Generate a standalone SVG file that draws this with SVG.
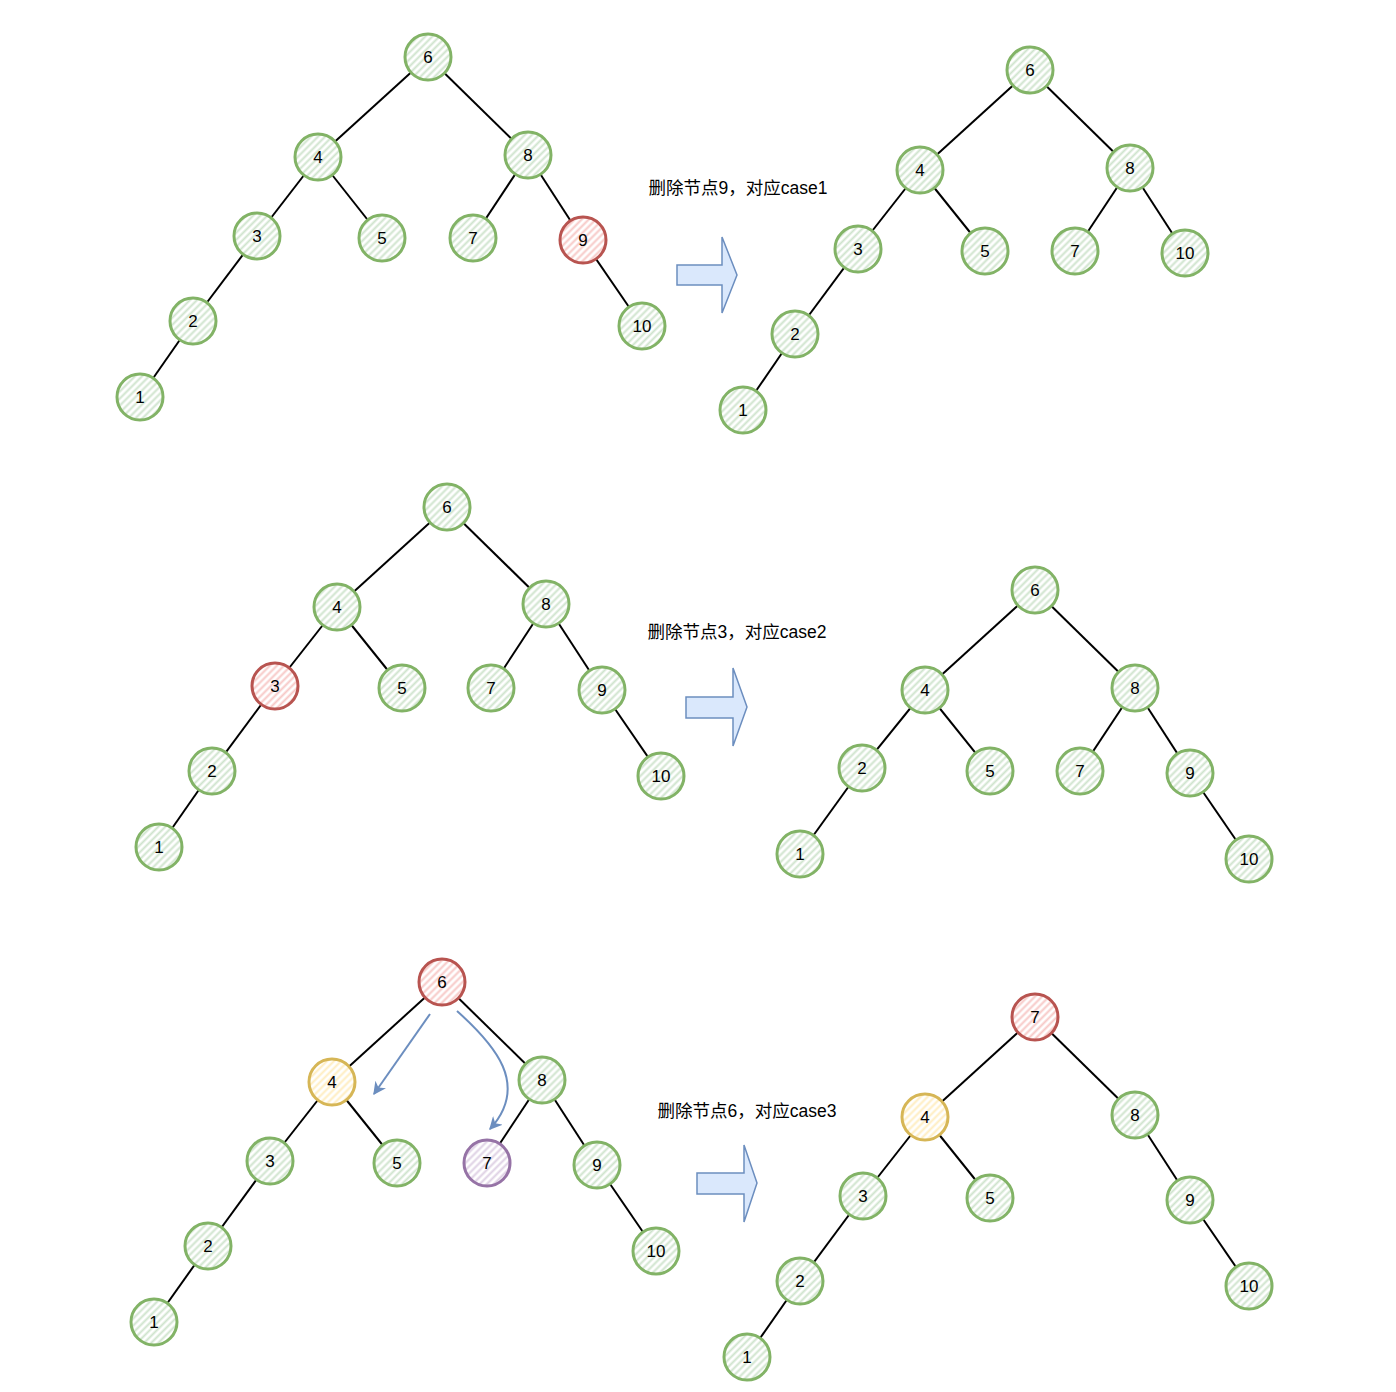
<svg xmlns="http://www.w3.org/2000/svg" width="1396" height="1392" viewBox="0 0 1396 1392">
<defs>
<pattern id="hg" patternUnits="userSpaceOnUse" width="5" height="5" patternTransform="rotate(45)"><rect width="5" height="5" fill="#ffffff"/><line x1="1.5" y1="0" x2="1.5" y2="5" stroke="#cfe4cd" stroke-width="2"/></pattern>
<pattern id="hr" patternUnits="userSpaceOnUse" width="5" height="5" patternTransform="rotate(45)"><rect width="5" height="5" fill="#ffffff"/><line x1="1.5" y1="0" x2="1.5" y2="5" stroke="#f7c8c6" stroke-width="2"/></pattern>
<pattern id="hy" patternUnits="userSpaceOnUse" width="5" height="5" patternTransform="rotate(45)"><rect width="5" height="5" fill="#ffffff"/><line x1="1.5" y1="0" x2="1.5" y2="5" stroke="#ffedc0" stroke-width="2"/></pattern>
<pattern id="hp" patternUnits="userSpaceOnUse" width="5" height="5" patternTransform="rotate(45)"><rect width="5" height="5" fill="#ffffff"/><line x1="1.5" y1="0" x2="1.5" y2="5" stroke="#ded0e4" stroke-width="2"/></pattern>
<marker id="ah" viewBox="0 0 10 10" refX="9" refY="5" markerWidth="13" markerHeight="13" orient="auto" markerUnits="userSpaceOnUse"><path d="M0,0 L10,5 L0,10 L3,5 Z" fill="#6c8ebf"/></marker>
</defs>
<style>
.n circle{stroke-width:3}
.g circle{fill:url(#hg);stroke:#82b366}
.r circle{fill:url(#hr);stroke:#b85450}
.y circle{fill:url(#hy);stroke:#d6b656}
.p circle{fill:url(#hp);stroke:#9673a6}
.n text{font-family:"Liberation Sans","Noto Sans CJK SC",sans-serif;font-size:17px;fill:#000;text-anchor:middle;dominant-baseline:central}
.e line{stroke:#000;stroke-width:2}
.lbl{font-family:"Liberation Sans","Noto Sans CJK SC",sans-serif;font-size:17.5px;fill:#000;text-anchor:middle}
.big{fill:#dae8fc;stroke:#6c8ebf;stroke-width:1.5}
.ba{fill:none;stroke:#6c8ebf;stroke-width:2}
</style>
<rect width="1396" height="1392" fill="#ffffff"/>

<g id="connectors">
<g class="e">
<line x1="428" y1="57" x2="318" y2="157"/><line x1="428" y1="57" x2="528" y2="155"/>
<line x1="318" y1="157" x2="257" y2="236"/><line x1="318" y1="157" x2="382" y2="238"/>
<line x1="528" y1="155" x2="473" y2="238"/><line x1="528" y1="155" x2="583" y2="240"/>
<line x1="257" y1="236" x2="193" y2="321"/><line x1="193" y1="321" x2="140" y2="397"/>
<line x1="583" y1="240" x2="642" y2="326"/>
<line x1="1030" y1="70" x2="920" y2="170"/><line x1="1030" y1="70" x2="1130" y2="168"/>
<line x1="920" y1="170" x2="858" y2="249"/><line x1="920" y1="170" x2="985" y2="251"/>
<line x1="1130" y1="168" x2="1075" y2="251"/><line x1="1130" y1="168" x2="1185" y2="253"/>
<line x1="858" y1="249" x2="795" y2="334"/><line x1="795" y1="334" x2="743" y2="410"/>
<line x1="447" y1="507" x2="337" y2="607"/><line x1="447" y1="507" x2="546" y2="604"/>
<line x1="337" y1="607" x2="275" y2="686"/><line x1="337" y1="607" x2="402" y2="688"/>
<line x1="546" y1="604" x2="491" y2="688"/><line x1="546" y1="604" x2="602" y2="690"/>
<line x1="275" y1="686" x2="212" y2="771"/><line x1="212" y1="771" x2="159" y2="847"/>
<line x1="602" y1="690" x2="661" y2="776"/>
<line x1="1035" y1="590" x2="925" y2="690"/><line x1="1035" y1="590" x2="1135" y2="688"/>
<line x1="925" y1="690" x2="862" y2="768"/><line x1="925" y1="690" x2="990" y2="771"/>
<line x1="1135" y1="688" x2="1080" y2="771"/><line x1="1135" y1="688" x2="1190" y2="773"/>
<line x1="862" y1="768" x2="800" y2="854"/><line x1="1190" y1="773" x2="1249" y2="859"/>
<line x1="442" y1="982" x2="332" y2="1082"/><line x1="442" y1="982" x2="542" y2="1080"/>
<line x1="332" y1="1082" x2="270" y2="1161"/><line x1="332" y1="1082" x2="397" y2="1163"/>
<line x1="542" y1="1080" x2="487" y2="1163"/><line x1="542" y1="1080" x2="597" y2="1165"/>
<line x1="270" y1="1161" x2="208" y2="1246"/><line x1="208" y1="1246" x2="154" y2="1322"/>
<line x1="597" y1="1165" x2="656" y2="1251"/>
<line x1="1035" y1="1017" x2="925" y2="1117"/><line x1="1035" y1="1017" x2="1135" y2="1115"/>
<line x1="925" y1="1117" x2="863" y2="1196"/><line x1="925" y1="1117" x2="990" y2="1198"/>
<line x1="1135" y1="1115" x2="1190" y2="1200"/>
<line x1="863" y1="1196" x2="800" y2="1281"/><line x1="800" y1="1281" x2="747" y2="1357"/>
<line x1="1190" y1="1200" x2="1249" y2="1286"/>
</g>
<path class="ba" d="M430,1014 L374,1094" marker-end="url(#ah)"/>
<path class="ba" d="M457,1011 C495,1045 530,1085 490,1129" marker-end="url(#ah)"/>
</g>

<g id="big-arrows">
<path class="big" d="M677,265 L722,265 L722,237 L737,275 L722,313 L722,285 L677,285 Z"/>
<path class="big" d="M686,697 L733,697 L733,668 L747,707 L733,746 L733,718 L686,718 Z"/>
<path class="big" d="M697,1173 L744,1173 L744,1145 L757,1183 L744,1222 L744,1194 L697,1194 Z"/>
</g>

<g id="labels">
<text class="lbl" x="738" y="194">删除节点9，对应case1</text>
<text class="lbl" x="737" y="638">删除节点3，对应case2</text>
<text class="lbl" x="747" y="1117">删除节点6，对应case3</text>
</g>

<g id="t1-6" class="n g"><circle cx="428" cy="57" r="23"/><text x="428" y="57">6</text></g>
<g id="t1-4" class="n g"><circle cx="318" cy="157" r="23"/><text x="318" y="157">4</text></g>
<g id="t1-8" class="n g"><circle cx="528" cy="155" r="23"/><text x="528" y="155">8</text></g>
<g id="t1-3" class="n g"><circle cx="257" cy="236" r="23"/><text x="257" y="236">3</text></g>
<g id="t1-5" class="n g"><circle cx="382" cy="238" r="23"/><text x="382" y="238">5</text></g>
<g id="t1-7" class="n g"><circle cx="473" cy="238" r="23"/><text x="473" y="238">7</text></g>
<g id="t1-9" class="n r"><circle cx="583" cy="240" r="23"/><text x="583" y="240">9</text></g>
<g id="t1-2" class="n g"><circle cx="193" cy="321" r="23"/><text x="193" y="321">2</text></g>
<g id="t1-10" class="n g"><circle cx="642" cy="326" r="23"/><text x="642" y="326">10</text></g>
<g id="t1-1" class="n g"><circle cx="140" cy="397" r="23"/><text x="140" y="397">1</text></g>

<g id="t2-6" class="n g"><circle cx="1030" cy="70" r="23"/><text x="1030" y="70">6</text></g>
<g id="t2-4" class="n g"><circle cx="920" cy="170" r="23"/><text x="920" y="170">4</text></g>
<g id="t2-8" class="n g"><circle cx="1130" cy="168" r="23"/><text x="1130" y="168">8</text></g>
<g id="t2-3" class="n g"><circle cx="858" cy="249" r="23"/><text x="858" y="249">3</text></g>
<g id="t2-5" class="n g"><circle cx="985" cy="251" r="23"/><text x="985" y="251">5</text></g>
<g id="t2-7" class="n g"><circle cx="1075" cy="251" r="23"/><text x="1075" y="251">7</text></g>
<g id="t2-10" class="n g"><circle cx="1185" cy="253" r="23"/><text x="1185" y="253">10</text></g>
<g id="t2-2" class="n g"><circle cx="795" cy="334" r="23"/><text x="795" y="334">2</text></g>
<g id="t2-1" class="n g"><circle cx="743" cy="410" r="23"/><text x="743" y="410">1</text></g>

<g id="t3-6" class="n g"><circle cx="447" cy="507" r="23"/><text x="447" y="507">6</text></g>
<g id="t3-4" class="n g"><circle cx="337" cy="607" r="23"/><text x="337" y="607">4</text></g>
<g id="t3-8" class="n g"><circle cx="546" cy="604" r="23"/><text x="546" y="604">8</text></g>
<g id="t3-3" class="n r"><circle cx="275" cy="686" r="23"/><text x="275" y="686">3</text></g>
<g id="t3-5" class="n g"><circle cx="402" cy="688" r="23"/><text x="402" y="688">5</text></g>
<g id="t3-7" class="n g"><circle cx="491" cy="688" r="23"/><text x="491" y="688">7</text></g>
<g id="t3-9" class="n g"><circle cx="602" cy="690" r="23"/><text x="602" y="690">9</text></g>
<g id="t3-2" class="n g"><circle cx="212" cy="771" r="23"/><text x="212" y="771">2</text></g>
<g id="t3-10" class="n g"><circle cx="661" cy="776" r="23"/><text x="661" y="776">10</text></g>
<g id="t3-1" class="n g"><circle cx="159" cy="847" r="23"/><text x="159" y="847">1</text></g>

<g id="t4-6" class="n g"><circle cx="1035" cy="590" r="23"/><text x="1035" y="590">6</text></g>
<g id="t4-4" class="n g"><circle cx="925" cy="690" r="23"/><text x="925" y="690">4</text></g>
<g id="t4-8" class="n g"><circle cx="1135" cy="688" r="23"/><text x="1135" y="688">8</text></g>
<g id="t4-2" class="n g"><circle cx="862" cy="768" r="23"/><text x="862" y="768">2</text></g>
<g id="t4-5" class="n g"><circle cx="990" cy="771" r="23"/><text x="990" y="771">5</text></g>
<g id="t4-7" class="n g"><circle cx="1080" cy="771" r="23"/><text x="1080" y="771">7</text></g>
<g id="t4-9" class="n g"><circle cx="1190" cy="773" r="23"/><text x="1190" y="773">9</text></g>
<g id="t4-1" class="n g"><circle cx="800" cy="854" r="23"/><text x="800" y="854">1</text></g>
<g id="t4-10" class="n g"><circle cx="1249" cy="859" r="23"/><text x="1249" y="859">10</text></g>

<g id="t5-6" class="n r"><circle cx="442" cy="982" r="23"/><text x="442" y="982">6</text></g>
<g id="t5-4" class="n y"><circle cx="332" cy="1082" r="23"/><text x="332" y="1082">4</text></g>
<g id="t5-8" class="n g"><circle cx="542" cy="1080" r="23"/><text x="542" y="1080">8</text></g>
<g id="t5-3" class="n g"><circle cx="270" cy="1161" r="23"/><text x="270" y="1161">3</text></g>
<g id="t5-5" class="n g"><circle cx="397" cy="1163" r="23"/><text x="397" y="1163">5</text></g>
<g id="t5-7" class="n p"><circle cx="487" cy="1163" r="23"/><text x="487" y="1163">7</text></g>
<g id="t5-9" class="n g"><circle cx="597" cy="1165" r="23"/><text x="597" y="1165">9</text></g>
<g id="t5-2" class="n g"><circle cx="208" cy="1246" r="23"/><text x="208" y="1246">2</text></g>
<g id="t5-10" class="n g"><circle cx="656" cy="1251" r="23"/><text x="656" y="1251">10</text></g>
<g id="t5-1" class="n g"><circle cx="154" cy="1322" r="23"/><text x="154" y="1322">1</text></g>

<g id="t6-7" class="n r"><circle cx="1035" cy="1017" r="23"/><text x="1035" y="1017">7</text></g>
<g id="t6-4" class="n y"><circle cx="925" cy="1117" r="23"/><text x="925" y="1117">4</text></g>
<g id="t6-8" class="n g"><circle cx="1135" cy="1115" r="23"/><text x="1135" y="1115">8</text></g>
<g id="t6-3" class="n g"><circle cx="863" cy="1196" r="23"/><text x="863" y="1196">3</text></g>
<g id="t6-5" class="n g"><circle cx="990" cy="1198" r="23"/><text x="990" y="1198">5</text></g>
<g id="t6-9" class="n g"><circle cx="1190" cy="1200" r="23"/><text x="1190" y="1200">9</text></g>
<g id="t6-2" class="n g"><circle cx="800" cy="1281" r="23"/><text x="800" y="1281">2</text></g>
<g id="t6-10" class="n g"><circle cx="1249" cy="1286" r="23"/><text x="1249" y="1286">10</text></g>
<g id="t6-1" class="n g"><circle cx="747" cy="1357" r="23"/><text x="747" y="1357">1</text></g>
</svg>
